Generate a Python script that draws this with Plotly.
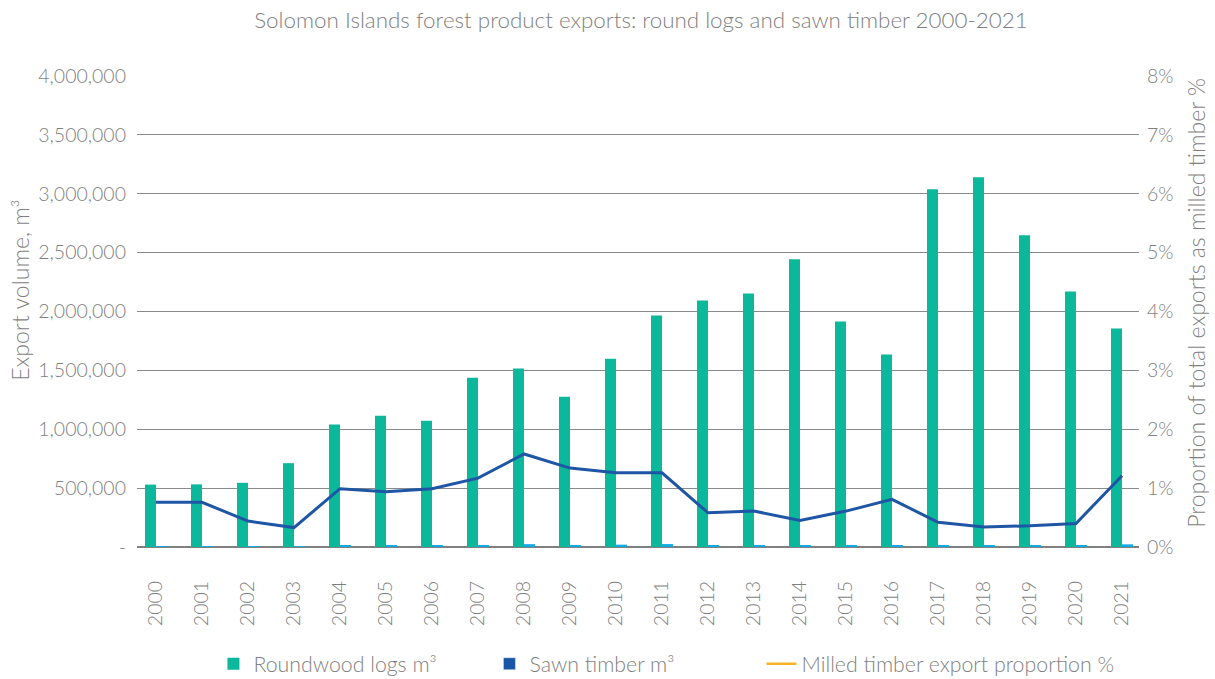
import plotly.graph_objects as go

years = list(range(2000, 2022))
roundwood_logs = [530000, 532000, 545000, 712000, 1040000, 1115000, 1072000, 1438000,
                  1515000, 1277000, 1598000, 1966000, 2094000, 2153000, 2443000, 1915000,
                  1634000, 3038000, 3140000, 2647000, 2170000, 1855000]
sawn_timber = [4000, 4000, 2400, 2400, 14000, 13000, 13000, 17000,
               24000, 17000, 20000, 25000, 12500, 13000, 11000, 11800,
               13200, 12800, 10700, 9500, 8800, 22600]
milled_pct = [0.76, 0.76, 0.44, 0.33, 0.99, 0.94, 0.99, 1.17,
              1.58, 1.34, 1.26, 1.26, 0.58, 0.61, 0.45, 0.61,
              0.81, 0.42, 0.34, 0.36, 0.40, 1.21]

left_tickvals = [0, 500000, 1000000, 1500000, 2000000, 2500000, 3000000, 3500000, 4000000]
left_ticktext = ["-", "500,000", "1,000,000", "1,500,000", "2,000,000",
                 "2,500,000", "3,000,000", "3,500,000", "4,000,000"]
right_tickvals = [0, 1, 2, 3, 4, 5, 6, 7, 8]
right_ticktext = ["0%", "1%", "2%", "3%", "4%", "5%", "6%", "7%", "8%"]

GREEN = "#0BB89B"
CYAN = "#14A9E0"
NAVY = "#1E56A5"
ORANGE = "#F5B325"
GREY = "#7F7F7F"
FAM = "Lato, 'Open Sans', sans-serif"
FONT = dict(family=FAM, size=19.5, color=GREY, weight=300)

bw = 0.239
fig = go.Figure()
fig.add_trace(go.Bar(x=years, y=roundwood_logs, name="Roundwood logs m³",
                     marker_color=GREEN, width=bw, offset=-bw, marker_line_width=0))
fig.add_trace(go.Bar(x=years, y=sawn_timber, name="Sawn timber m³", showlegend=False,
                     marker_color=CYAN, width=bw, offset=0, marker_line_width=0))
fig.add_trace(go.Scatter(x=years, y=milled_pct, name="Milled timber export proportion %",
                         mode="lines", line=dict(color=NAVY, width=3), yaxis="y2",
                         showlegend=False))
# legend entries as shown in the reference
fig.add_trace(go.Bar(x=[None], y=[None], name="Sawn timber m³", marker_color="#1B56A6"))
fig.add_trace(go.Scatter(x=[None], y=[None], name="Milled timber export proportion %",
                         mode="lines", line=dict(color=ORANGE, width=2.5), yaxis="y2",
                         legend="legend2"))

LEG_Y = -(644 - 547.5) / 471.5
fig.update_layout(
    width=1215, height=679,
    margin=dict(l=137, r=76, t=76, b=131.5, autoexpand=False),
    paper_bgcolor="white", plot_bgcolor="white",
    font=FONT,
    barmode="overlay",
    title=dict(text="Solomon Islands forest product exports: round logs and sawn timber 2000-2021",
               x=0.503, xref="paper", xanchor="center", y=0.9705, yref="container",
               yanchor="middle", font=dict(size=22.4, color=GREY, family=FAM, weight=300)),
    xaxis=dict(range=[2000 - 19 / 46, 2021 + 17 / 46], tickvals=years,
               ticktext=[str(y) for y in years], tickangle=-90, showgrid=False,
               showline=False, zeroline=False, ticks="", automargin=False,
               ticklabelstandoff=29, tickfont=dict(size=19.5, color=GREY)),
    yaxis=dict(range=[0, 4000000], tickvals=left_tickvals, ticktext=left_ticktext,
               showgrid=True, gridcolor="#8A8A8A", gridwidth=1, zeroline=True,
               zerolinecolor="#808080", zerolinewidth=1.5, ticks="", automargin=False,
               ticklabelstandoff=10, tickfont=dict(size=19.5, color=GREY)),
    yaxis2=dict(range=[0, 8], tickvals=right_tickvals, ticktext=right_ticktext,
                overlaying="y", side="right", showgrid=False, zeroline=False, ticks="",
                automargin=False, ticklabelstandoff=7, tickfont=dict(size=19.5, color=GREY)),
    legend=dict(orientation="h", x=0.0763, xanchor="left", y=LEG_Y, yref="paper",
                yanchor="top", font=dict(size=21.3, color=GREY), entrywidth=231,
                itemwidth=30, bgcolor="rgba(0,0,0,0)"),
    legend2=dict(orientation="h", x=0.6233, xanchor="left", y=LEG_Y, yref="paper",
                 yanchor="top", font=dict(size=21.3, color=GREY),
                 itemwidth=30, bgcolor="rgba(0,0,0,0)"),
    showlegend=True,
    annotations=[
        dict(text="Export volume, m³", textangle=-90, xref="paper", yref="paper",
             x=(20 - 137) / 1002, y=0.544, xanchor="center", yanchor="middle",
             showarrow=False, font=dict(size=23, color=GREY, family=FAM, weight=300)),
        dict(text="Proportion of total exports as milled timber %", textangle=-90,
             xref="paper", yref="paper", x=(1196 - 137) / 1002, y=0.5186,
             xanchor="center", yanchor="middle", showarrow=False,
             font=dict(size=23, color=GREY, family=FAM, weight=300)),
    ],
)

fig.write_html("out.html", config={"displayModeBar": False},
               post_script="document.body.style.margin='0';")
